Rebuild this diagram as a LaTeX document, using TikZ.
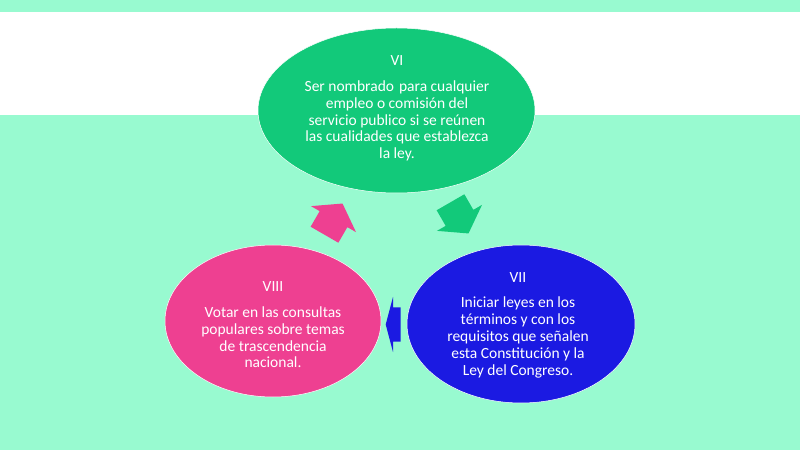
\documentclass[tikz,border=0pt]{standalone}
\usepackage{fontspec}
\setmainfont{Carlito}
\usetikzlibrary{shapes.geometric}
\definecolor{mint}{RGB}{152,250,208}
\definecolor{ggreen}{RGB}{18,201,122}
\definecolor{ppink}{RGB}{238,64,145}
\definecolor{bblue}{RGB}{27,26,226}
\begin{document}
\begin{tikzpicture}[x=1pt,y=1pt,
  bubble/.style={ellipse, draw=white, line width=0.5pt, inner sep=0pt},
  bubbletext/.style={text=white, align=center, font=\fontsize{15.5}{16.8}\selectfont}]
\useasboundingbox (0,0) rectangle (800,450);
\fill[mint] (0,0) rectangle (800,450);
\fill[white] (0,335) rectangle (800,438);
% ellipses
\node[bubble, fill=ggreen, minimum width=277, minimum height=165] (vi) at (396.5,339.5) {};
\node[bubble, fill=bblue, minimum width=228, minimum height=158] (vii) at (521,126) {};
\node[bubble, fill=ppink, minimum width=216, minimum height=152] (viii) at (273,129) {};
% block arrows
\begin{scope}[shift={(459,233)}, rotate=-60]
\fill[ggreen] (19,0) -- (1,26) -- (1,16) -- (-17,16) -- (-17,-16) -- (1,-16) -- (1,-26) -- cycle;
\end{scope}
\begin{scope}[shift={(393,125.5)}, rotate=180]
\fill[bblue] (7.3,0) -- (0,27.5) -- (0,17) -- (-7.7,17) -- (-7.7,-17) -- (0,-17) -- (0,-27.5) -- cycle;
\end{scope}
\begin{scope}[shift={(333,230)}, rotate=60]
\fill[ppink] (19,0) -- (1,26) -- (1,16) -- (-17,16) -- (-17,-16) -- (1,-16) -- (1,-26) -- cycle;
\end{scope}
% texts
\node[bubbletext] (vit) at (397,341.5) {VI\\[8.9pt]Ser nombrado\hspace{0.1em} para cualquier\\empleo o comisión del\\servicio publico si se reúnen\\las cualidades que establezca\\la ley.};
\node[bubbletext] (viit) at (518,125) {VII\\[8.9pt]Iniciar leyes en los\\términos y con los\\requisitos que señalen\\esta Constitución y la\\Ley del Congreso.};
\node[bubbletext] (viiit) at (273,125) {VIII\\[8.9pt]Votar en las consultas\\populares sobre temas\\de trascendencia\\nacional.};
\end{tikzpicture}
\end{document}
